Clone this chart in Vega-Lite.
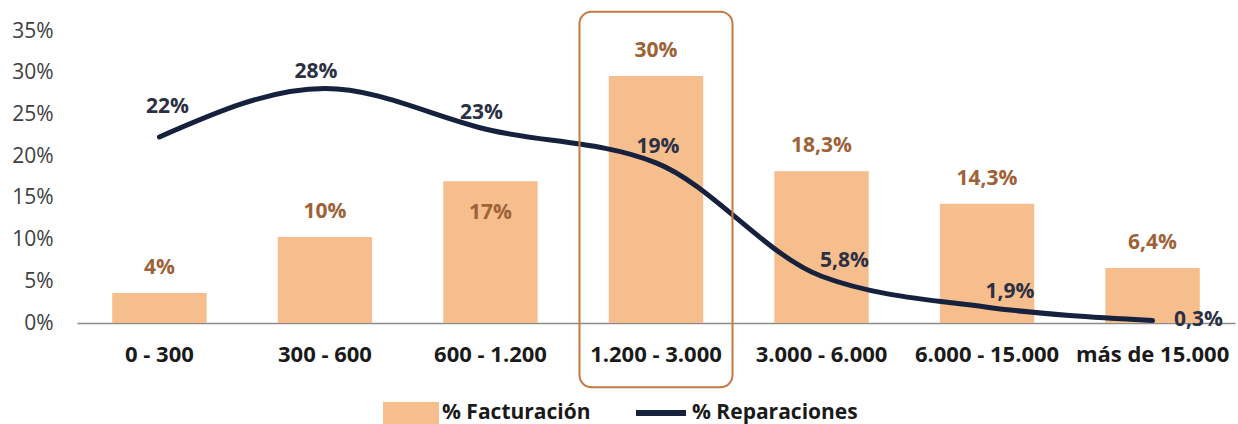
{
  "$schema": "https://vega.github.io/schema/vega-lite/v6.json",
  "width": 1158,
  "height": 292,
  "autosize": {"type": "none"},
  "padding": {"left": 77, "top": 31, "right": 3, "bottom": 101},
  "background": "white",
  "config": {
    "font": "Open Sans",
    "view": {"stroke": null}
  },
  "data": {
    "values": [
      {"rango": "0 - 300", "fact": 3.6, "factLabel": "4%", "rep": 22.3, "repLabel": "22%"},
      {"rango": "300 - 600", "fact": 10.3, "factLabel": "10%", "rep": 28.1, "repLabel": "28%"},
      {"rango": "600 - 1.200", "fact": 17.0, "factLabel": "17%", "rep": 23.1, "repLabel": "23%"},
      {"rango": "1.200 - 3.000", "fact": 29.6, "factLabel": "30%", "rep": 19.2, "repLabel": "19%"},
      {"rango": "3.000 - 6.000", "fact": 18.2, "factLabel": "18,3%", "rep": 5.6, "repLabel": "5,8%"},
      {"rango": "6.000 - 15.000", "fact": 14.3, "factLabel": "14,3%", "rep": 1.9, "repLabel": "1,9%"},
      {"rango": "más de 15.000", "fact": 6.6, "factLabel": "6,4%", "rep": 0.3, "repLabel": "0,3%"}
    ]
  },
  "encoding": {
    "x": {
      "field": "rango",
      "type": "nominal",
      "sort": null,
      "scale": {"paddingInner": 0.43, "paddingOuter": 0.213},
      "axis": {
        "title": null,
        "labelAngle": 0,
        "ticks": false,
        "labelPadding": 21,
        "labelFontSize": 22,
        "labelFontWeight": "bold",
        "labelColor": "#1a1a1a",
        "labelLimit": 300,
        "domainColor": "#8c8c8c",
        "domainWidth": 1.5,
        "grid": false
      }
    }
  },
  "layer": [
    {
      "mark": {"type": "bar"},
      "encoding": {
        "y": {
          "field": "fact",
          "type": "quantitative",
          "scale": {"domain": [0, 35], "nice": false},
          "axis": {
            "title": null,
            "values": [0, 5, 10, 15, 20, 25, 30, 35],
            "labelExpr": "datum.value + '%'",
            "grid": false,
            "domain": false,
            "ticks": false,
            "labelPadding": 24,
            "labelFontSize": 21,
            "labelColor": "#404040"
          }
        },
        "color": {
          "datum": "% Facturación",
          "type": "nominal",
          "scale": {"domain": ["% Facturación", "% Reparaciones"], "range": ["#F5BE8C", "#16213E"]},
          "legend": {
            "orient": "none",
            "legendX": 306,
            "legendY": 354,
            "direction": "horizontal",
            "title": null,
            "symbolSize": 2500,
            "labelFontSize": 21,
            "labelFontWeight": "bold",
            "labelColor": "#1a1a1a",
            "labelLimit": 400,
            "labelOffset": 3,
            "columnPadding": 33,
            "padding": 0,
            "symbolOpacity": 1,
            "encode": {
              "symbols": {
                "update": {
                  "shape": {"signal": "datum.value === '% Facturación' ? 'M-1,-0.32H1V0.32H-1Z' : 'M-1,-0.32M-1,0.32M-1,0H1'"},
                  "fill": {"signal": "datum.value === '% Facturación' ? '#F5BE8C' : 'transparent'"},
                  "stroke": {"signal": "datum.value === '% Facturación' ? 'transparent' : '#16213E'"},
                  "strokeWidth": {"value": 6},
                  "opacity": {"value": 1}
                }
              }
            }
          }
        }
      }
    },
    {
      "mark": {"type": "line", "interpolate": "monotone", "strokeWidth": 5, "strokeCap": "round"},
      "encoding": {
        "y": {"field": "rep", "type": "quantitative"},
        "color": {"datum": "% Reparaciones", "type": "nominal"}
      }
    },
    {
      "transform": [{"filter": "datum.rango === '1.200 - 3.000'"}],
      "mark": {"type": "bar", "width": 153, "fillOpacity": 0, "stroke": "#C47A45", "strokeWidth": 2, "cornerRadius": 12},
      "encoding": {
        "y": {"datum": 37.3, "type": "quantitative"},
        "y2": {"datum": -7.7}
      }
    },
    {
      "transform": [{"filter": "datum.rango !== '600 - 1.200'"}],
      "mark": {"type": "text", "dy": -25, "baseline": "middle", "fontSize": 21, "fontWeight": "bold", "color": "#9E6238"},
      "encoding": {
        "y": {"field": "fact", "type": "quantitative"},
        "text": {"field": "factLabel"}
      }
    },
    {
      "transform": [{"filter": "datum.rango === '600 - 1.200'"}],
      "mark": {"type": "text", "dy": 32, "baseline": "middle", "fontSize": 21, "fontWeight": "bold", "color": "#9E6238"},
      "encoding": {
        "y": {"field": "fact", "type": "quantitative"},
        "text": {"field": "factLabel"}
      }
    },
    {
      "transform": [{"filter": "datum.rango === '0 - 300'"}],
      "mark": {"type": "text", "dx": 8, "dy": -30, "baseline": "middle", "fontSize": 21, "fontWeight": "bold", "color": "#2B3045"},
      "encoding": {
        "y": {"field": "rep", "type": "quantitative"},
        "text": {"field": "repLabel"}
      }
    },
    {
      "transform": [{"filter": "datum.rango === '300 - 600' || datum.rango === '600 - 1.200'"}],
      "mark": {"type": "text", "dx": -9, "dy": -17, "baseline": "middle", "fontSize": 21, "fontWeight": "bold", "color": "#2B3045"},
      "encoding": {
        "y": {"field": "rep", "type": "quantitative"},
        "text": {"field": "repLabel"}
      }
    },
    {
      "transform": [{"filter": "datum.rango === '1.200 - 3.000'"}],
      "mark": {"type": "text", "dx": 2, "dy": -16, "baseline": "middle", "fontSize": 21, "fontWeight": "bold", "color": "#2B3045"},
      "encoding": {
        "y": {"field": "rep", "type": "quantitative"},
        "text": {"field": "repLabel"}
      }
    },
    {
      "transform": [{"filter": "datum.rango === '3.000 - 6.000' || datum.rango === '6.000 - 15.000'"}],
      "mark": {"type": "text", "dx": 23, "dy": -15, "baseline": "middle", "fontSize": 21, "fontWeight": "bold", "color": "#2B3045"},
      "encoding": {
        "y": {"field": "rep", "type": "quantitative"},
        "text": {"field": "repLabel"}
      }
    },
    {
      "transform": [{"filter": "datum.rango === 'más de 15.000'"}],
      "mark": {"type": "text", "dx": 46, "dy": 0, "baseline": "middle", "fontSize": 21, "fontWeight": "bold", "color": "#2B3045"},
      "encoding": {
        "y": {"field": "rep", "type": "quantitative"},
        "text": {"field": "repLabel"}
      }
    }
  ]
}
